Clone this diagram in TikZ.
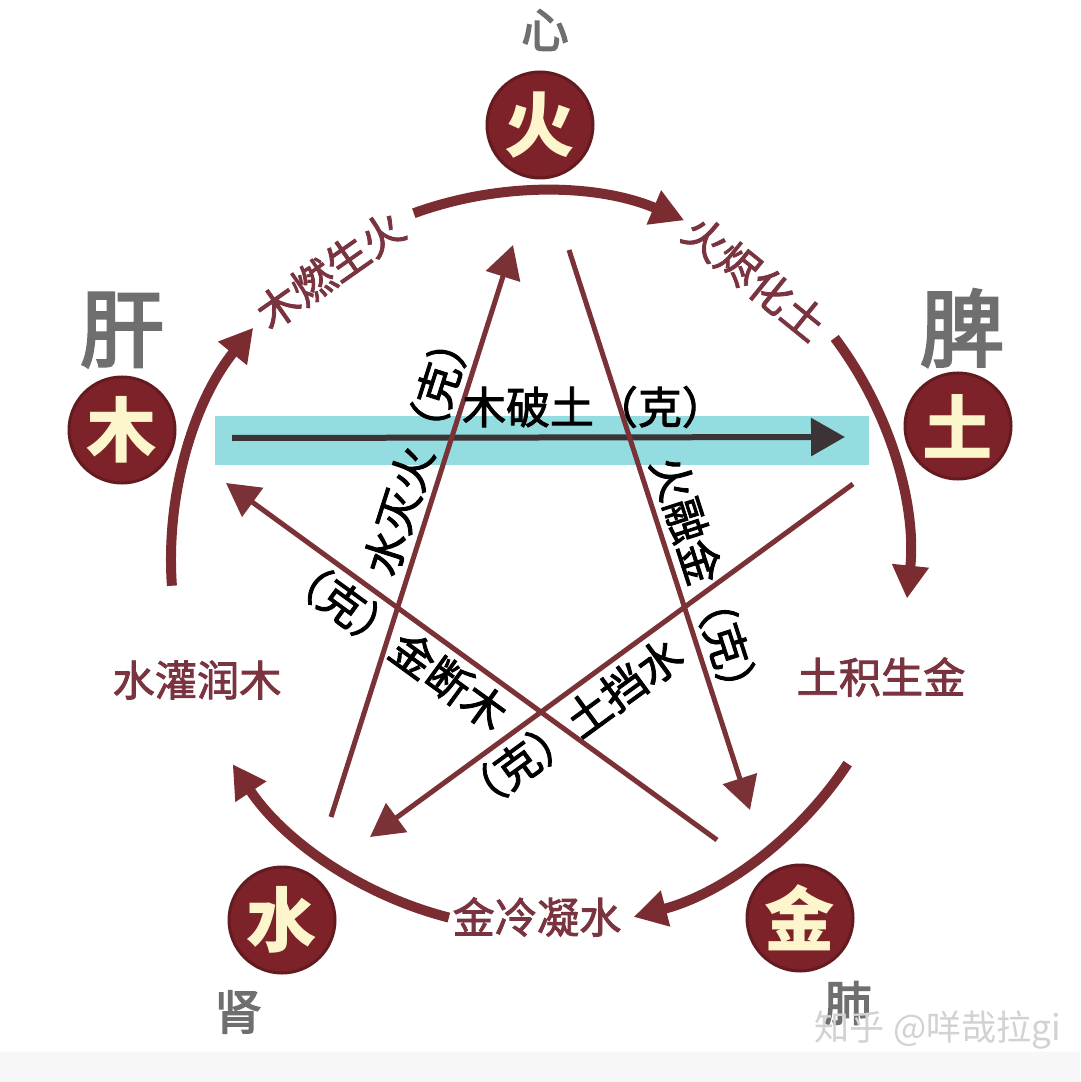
\documentclass[tikz,border=0pt]{standalone}
\usepackage{xcolor}
\usepackage{fontspec}
\usepackage{tikz}
\usetikzlibrary{arrows.meta}
\usetikzlibrary{calc}
\newfontfamily\cjk{Noto Sans CJK SC}
\newfontfamily\cjkmid[FakeBold=2]{Noto Sans CJK SC}
\newfontfamily\cjkorg[FakeBold=3]{Noto Sans CJK SC}

\definecolor{wuxing}{HTML}{7D2228}
\definecolor{arcred}{HTML}{7A2C31}
\definecolor{linered}{HTML}{7A3236}
\definecolor{txtred}{HTML}{7A3440}
\definecolor{cream}{HTML}{FDF6CC}
\definecolor{organgray}{HTML}{6F6F6F}
\definecolor{band}{HTML}{93DCE0}
\definecolor{darkarrow}{HTML}{3B3335}

\begin{document}
\begin{tikzpicture}[x=0.1mm,y=-0.1mm,
    element/.style={circle,fill=wuxing,draw=wuxing!80!black,line width=0.3mm,minimum size=10.6mm,inner sep=0pt,text=cream,font=\cjk\bfseries\fontsize{20}{20}\selectfont},
    organ/.style={text=organgray,font=\cjkorg\fontsize{13.5}{14}\selectfont},
    bigorgan/.style={text=organgray,font=\cjkorg\fontsize{24}{24}\selectfont},
    sheng/.style={text=txtred,font=\cjkmid\fontsize{12}{12}\selectfont},
    ke/.style={text=black,inner sep=1.5pt,font=\cjkmid\fontsize{12.5}{13}\selectfont},
    shengarrow/.style={arcred,line width=1mm,-{Triangle[length=3.3mm,width=3.5mm]}},
    kearrow/.style={linered,line width=0.5mm,-{Triangle[length=3.3mm,width=3.5mm]}},
    muarrow/.style={darkarrow,line width=0.6mm,-{Triangle[length=3.4mm,width=3.7mm]}}]
    % page
    \fill[white] (0,0) rectangle (1080,1082);
    \fill[gray!6] (0,1052) rectangle (1080,1082);
    \useasboundingbox (0,0) rectangle (1080,1082);

    % five elements
    \node[element] (huo) at (540,125) {火};
    \node[element] (mu) at (122,430) {木};
    \node[element] (tu) at (958,426) {土};
    \node[element] (shui) at (282,920) {水};
    \node[element] (jin) at (800,918) {金};

    % organs
    \node[organ] (xin) at (545,30) {心};
    \node[bigorgan] (gan) at (122,330) {肝};
    \node[bigorgan] (pi) at (962,328) {脾};
    \node[organ] (shen) at (238,1012) {肾};
    \node[organ] (fei) at (848,1003) {肺};

    % generating cycle
    \coordinate (c) at (540,560);
    \foreach \a/\b in {176/219, 250/293, 323/366, 33.5/75.3, 104.3/146.4} {
        \draw[shengarrow] (c) ++(\a:369) arc (\a:\b:369);
    }
    \node[sheng,rotate=35] (musheng) at (330,270) {木燃生火};
    \node[sheng,rotate=-39] (huosheng) at (755,278) {火烬化土};
    \node[sheng] (tusheng) at (881,677) {土积生金};
    \node[sheng] (jinsheng) at (537,917) {金冷凝水};
    \node[sheng] (shuisheng) at (197,680) {水灌润木};

    % controlling star
    \fill[band] (215,416) rectangle (869,465);
    \coordinate (mu-out) at (232,438);
    \coordinate (tu-in) at (845,437);
    \coordinate (shui-out) at (331,817);
    \coordinate (huo-in) at (513,245);
    \coordinate (huo-out) at (569,250);
    \coordinate (jin-in) at (750,810);
    \coordinate (tu-out) at (853,484);
    \coordinate (shui-in) at (370,837);
    \coordinate (jin-out) at (717,840);
    \coordinate (mu-in) at (226,483);
    \draw[muarrow] (mu-out) -- (tu-in);
    \draw[kearrow] (shui-out) -- (huo-in) node[ke,pos=0.63,sloped,above] (shuike) {水灭火（克）};
    \draw[kearrow] (huo-out) -- (jin-in) node[ke,pos=0.61,sloped,above] (huoke) {火融金（克）};
    \draw[kearrow] (tu-out) -- (shui-in) node[ke,pos=0.62,sloped,below] (tuke) {（克）土挡水};
    \draw[kearrow] (jin-out) -- (mu-in) node[ke,pos=0.62,sloped,below] (jinke) {（克）金断木};
    \node[ke] (muke) at (594,407) {木破土（克）};

    % watermark
    \node[text=gray!35,font=\cjk\fontsize{10}{10}\selectfont] (mark) at (938,1030) {知乎 @咩哉拉gi};
\end{tikzpicture}
\end{document}
